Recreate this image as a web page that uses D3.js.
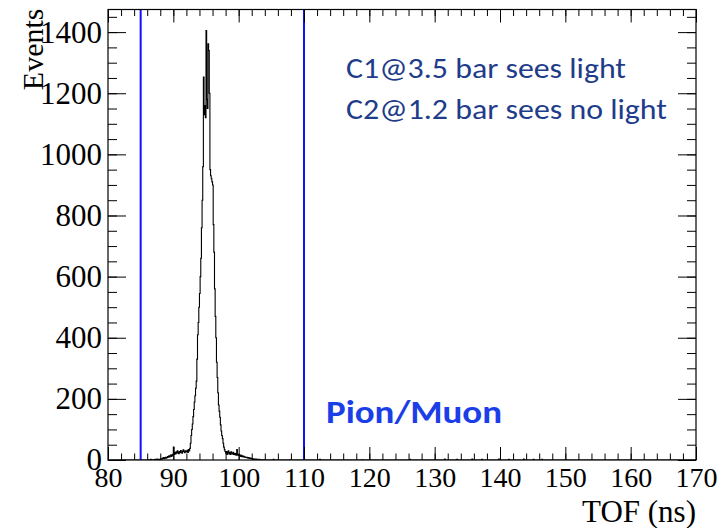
<!DOCTYPE html>
<html>
<head>
  <meta charset="UTF-8" />
  <title>TOF</title>
  <script src="https://cdn.jsdelivr.net/npm/d3@7"></script>
  <style>
    body { margin: 0; background: #fff; }
    .axis text { font-family: "Liberation Serif", "Times New Roman", serif; fill: #000; }
    .axis line { stroke: #000; stroke-width: 1; }
  </style>
</head>
<body>
  <div id="chart"></div>
  <script>
    // TOF histogram, 0.1 ns bins starting at 86.0 ns
    const binStart = 86.0;
    const binWidth = 0.1;
    const counts = [
      0, 0, 1, 0, 0, 2, 0, 1, 0, 0,
      1, 0, 2, 1, 0, 3, 1, 0, 2, 1,
      2, 4, 3, 6, 5, 8, 4, 7, 9, 6,
      8, 11, 9, 14, 10, 13, 17, 12, 15, 19,
      42, 18, 24, 20, 27, 22, 30, 25, 21, 28,
      24, 31, 26, 22, 29, 33, 27, 24, 30, 26,
      28, 32, 25, 34, 30, 38, 55, 80, 100, 118,
      142, 165, 190, 210, 235, 258, 330, 410, 450, 500,
      545, 600, 660, 760, 850, 960, 1253, 1130, 1160, 1120,
      1405, 1180, 1150, 1362, 1340, 1200, 950, 930, 920, 910,
      900, 770, 680, 560, 470, 400, 320, 270, 220, 180,
      160, 140, 115, 95, 80, 70, 55, 42, 34, 28,
      22, 28, 18, 25, 30, 20, 24, 18, 27, 22,
      20, 25, 18, 22, 17, 21, 16, 34, 19, 15,
      18, 14, 16, 12, 15, 11, 13, 10, 12, 9,
      10, 8, 9, 7, 8, 6, 7, 5, 6, 4,
      5, 3, 4, 2, 3, 2, 3, 1, 2, 1,
      1, 2, 0, 1, 0, 1, 0, 0, 1, 0
    ];
    // isolated late hits [tof, count]
    const strayHits = [
      [105.3, 2], [107.8, 1], [112.4, 2], [118.9, 1], [126.2, 2],
      [131.5, 3], [133.4, 2], [135.7, 3], [137.2, 2], [139.8, 3],
      [141.3, 2], [143.6, 3], [145.1, 2], [146.4, 2]
    ];
    const cutLines = [85, 110];
    const xTicks = [80, 90, 100, 110, 120, 130, 140, 150, 160, 170];
    const yTicks = [0, 200, 400, 600, 800, 1000, 1200, 1400];
    const notes = ["C1@3.5 bar sees light", "C2@1.2 bar sees no light"];
    const regionLabel = "Pion/Muon";

    const W = 718, H = 528;
    const margin = { top: 9.5, right: 22, bottom: 68, left: 108 };

    const svg = d3.select("#chart").append("svg")
      .attr("width", W).attr("height", H);

    const x = d3.scaleLinear().domain([80, 170]).range([margin.left, W - margin.right]);
    const y = d3.scaleLinear().domain([0, 1474]).range([H - margin.bottom, margin.top]);

    /* build full binning 80-170 */
    const nBins = Math.round((170 - 80) / binWidth);
    const bins = new Array(nBins).fill(0);
    const offset = Math.round((binStart - 80) / binWidth);
    counts.forEach((c, i) => { bins[offset + i] = c; });
    strayHits.forEach(d => { bins[Math.floor((d[0] - 80) / binWidth + 1e-6)] += d[1]; });

    const pts = bins.map((c, i) => [80 + i * binWidth, c]);
    pts.push([170, 0]);

    svg.append("clipPath").attr("id", "clip")
      .append("rect")
      .attr("x", margin.left).attr("y", margin.top)
      .attr("width", W - margin.left - margin.right)
      .attr("height", H - margin.top - margin.bottom);

    const line = d3.line()
      .x(d => x(d[0]))
      .y(d => y(d[1]))
      .curve(d3.curveStepAfter);

    svg.append("path")
      .datum(pts)
      .attr("clip-path", "url(#clip)")
      .attr("fill", "none")
      .attr("stroke", "#000")
      .attr("stroke-width", 1.1)
      .attr("d", line);

    /* cut lines */
    svg.selectAll("line.cut")
      .data(cutLines)
      .enter().append("line")
      .attr("class", "cut")
      .attr("x1", d => x(d)).attr("x2", d => x(d))
      .attr("y1", y.range()[1]).attr("y2", y.range()[0])
      .attr("stroke", "#1010ff")
      .attr("stroke-width", 2);

    /* axes: major + minor ticks, all pointing inwards */
    const xMinor = d3.range(80, 171, 2);
    const yMinor = d3.range(0, 1474, 50);

    function addAxis(axis, transform, labelSize) {
      const g = svg.append("g").attr("class", "axis")
        .attr("transform", transform)
        .call(axis);
      g.select(".domain").remove();
      if (labelSize) g.selectAll("text").style("font-size", labelSize + "px");
      return g;
    }

    addAxis(d3.axisBottom(x).tickValues(xTicks).tickSize(-13).tickPadding(7), `translate(0,${y(0)})`, 28);
    addAxis(d3.axisBottom(x).tickValues(xMinor).tickSize(-6.5).tickFormat(""), `translate(0,${y(0)})`);
    addAxis(d3.axisTop(x).tickValues(xTicks).tickSize(-13).tickFormat(""), `translate(0,${margin.top})`);
    addAxis(d3.axisTop(x).tickValues(xMinor).tickSize(-6.5).tickFormat(""), `translate(0,${margin.top})`);

    addAxis(d3.axisLeft(y).tickValues(yTicks).tickSize(-18).tickPadding(6).tickFormat(d3.format("d")), `translate(${margin.left},0)`, 31);
    addAxis(d3.axisLeft(y).tickValues(yMinor).tickSize(-9).tickFormat(""), `translate(${margin.left},0)`);
    addAxis(d3.axisRight(y).tickValues(yTicks).tickSize(-18).tickFormat(""), `translate(${W - margin.right},0)`);
    addAxis(d3.axisRight(y).tickValues(yMinor).tickSize(-9).tickFormat(""), `translate(${W - margin.right},0)`);

    /* frame */
    svg.append("rect")
      .attr("x", margin.left).attr("y", margin.top)
      .attr("width", W - margin.left - margin.right)
      .attr("height", H - margin.top - margin.bottom)
      .attr("fill", "none")
      .attr("stroke", "#000")
      .attr("stroke-width", 1.2);

    /* axis titles */
    svg.append("text")
      .attr("transform", `translate(43,${margin.top - 1}) rotate(-90)`)
      .attr("text-anchor", "end")
      .style("font-family", "'Liberation Serif', serif")
      .style("font-size", "30px")
      .text("Events");

    svg.append("text")
      .attr("x", W - margin.right)
      .attr("y", 522)
      .attr("text-anchor", "end")
      .style("font-family", "'Liberation Serif', serif")
      .style("font-size", "31px")
      .text("TOF (ns)");

    /* annotations */
    const noteWidths = [280, 321];
    svg.selectAll("text.note")
      .data(notes)
      .enter().append("text")
      .attr("class", "note")
      .attr("x", 346)
      .attr("y", (d, i) => 78 + i * 41)
      .attr("textLength", (d, i) => noteWidths[i])
      .attr("lengthAdjust", "spacingAndGlyphs")
      .style("font-family", "Carlito, Calibri, Lato, sans-serif")
      .style("font-size", "29px")
      .attr("fill", "#1e3c8a")
      .text(d => d);

    svg.append("text")
      .attr("x", 326)
      .attr("y", 423)
      .attr("textLength", 176)
      .attr("lengthAdjust", "spacingAndGlyphs")
      .style("font-family", "Carlito, Calibri, Lato, sans-serif")
      .style("font-size", "32px")
      .style("font-weight", "bold")
      .attr("fill", "#1a3ee8")
      .text(regionLabel);
  </script>
</body>
</html>
